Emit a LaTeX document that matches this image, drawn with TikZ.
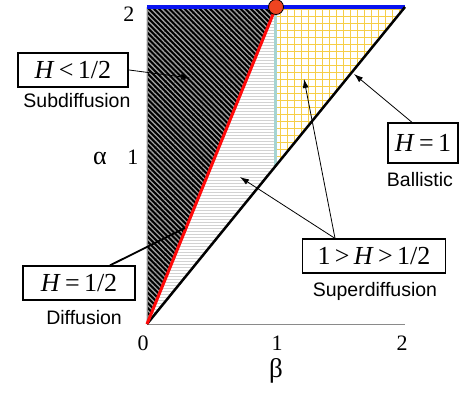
\documentclass[tikz,border=0pt]{standalone}
\usepackage{fontspec}
\setmainfont{Liberation Serif}
\newfontfamily\labelsans{Liberation Sans}
\usetikzlibrary{arrows.meta, patterns, patterns.meta}
\definecolor{lineRed}{HTML}{FF0A0A}
\definecolor{lineBlue}{HTML}{0A14F0}
\definecolor{lineCyan}{HTML}{A6D4D2}
\definecolor{gridYellow}{HTML}{F6CE46}
\definecolor{dotOrange}{HTML}{EE4420}
\definecolor{axisGray}{HTML}{8A8A8A}

\begin{document}
\begin{tikzpicture}[x=129pt, y=158.5pt, >=Latex,
        box/.style={draw, line width=1.2pt, inner sep=2pt, minimum height=34pt,
            font=\fontsize{26}{26}\selectfont},
        tag/.style={font=\labelsans\fontsize{19.5}{20}\selectfont},
        tick/.style={font=\fontsize{22}{22}\selectfont},
        ptr/.style={-{Latex[length=9pt,width=6pt]}, line width=0.8pt}]
    \useasboundingbox (-1.1395,-0.4606) rectangle (2.4729,2.0442);
    % regions
    \fill[black] (0,0) -- (0,2) -- (1,2) -- cycle;
    \fill[pattern={Lines[angle=135, distance=3.6pt, line width=1.3pt]}, pattern color=gray!75]
        (0,0) -- (0,2) -- (1,2) -- cycle;
    \fill[pattern=horizontal lines, pattern color=gray!35] (0,0) -- (1,2) -- (1,1) -- cycle;
    \begin{scope}
        \clip (1,1) -- (1,2) -- (2,2) -- cycle;
        \draw[gridYellow, line width=0.8pt, step=7pt] (1,1) grid (2,2);
    \end{scope}
    % axes
    \draw[axisGray, line width=1pt] (0,0) -- (2,0);
    \draw[axisGray, line width=0.6pt] (0,0) -- (0,2);
    % boundary lines
    \draw[lineCyan, line width=3pt] (1,1) -- (1,2);
    \draw[lineBlue, line width=3.5pt] (0,2) -- (2,2);
    \draw[black, line width=2.5pt] (0,0) -- (2,2);
    \draw[lineRed, line width=3pt] (0,0) -- (1,2);
    \node[circle, draw, fill=dotOrange, line width=0.8pt, minimum size=15pt, inner sep=0pt] (crit) at (1,2) {};
    % ticks
    \node[tick] (y2) at (-0.14,1.956) {2};
    \node[tick] (y1) at (-0.109,1.054) {1};
    \node[tick, font=\fontsize{26}{26}\selectfont] (alab) at (-0.364,1.047) {α};
    \node[tick] (x0) at (-0.03,-0.12) {0};
    \node[tick] (x1) at (1.008,-0.12) {1};
    \node[tick] (x2) at (1.977,-0.12) {2};
    \node[tick, font=\fontsize{27}{27}\selectfont] (blab) at (1,-0.297) {β};
    % labels
    \node[box, minimum width=110pt] (bSub) at (-0.574,1.603) {\textit{H}\,<\,1/2};
    \node[tag] (tSub) at (-0.543,1.407) {Subdiffusion};
    \node[box, minimum width=70pt, minimum height=40pt] (bBal) at (2.140,1.142) {\textit{H}\,=\,1};
    \node[tag] (tBal) at (2.116,0.909) {Ballistic};
    \node[box, minimum width=143pt] (bSup) at (1.760,0.429) {1\,>\,\textit{H}\,>\,1/2};
    \node[tag] (tSup) at (1.767,0.208) {Superdiffusion};
    \node[box, minimum width=112pt] (bDif) at (-0.527,0.259) {\textit{H}\,=\,1/2};
    \node[tag] (tDif) at (-0.488,0.038) {Diffusion};
    % pointers
    \coordinate (pSub) at (0.333,1.552);
    \coordinate (pBal) at (1.605,1.577);
    \coordinate (pSupA) at (1.217,1.546);
    \coordinate (pSupB) at (0.721,0.927);
    \coordinate (pDif) at (0.295,0.606);
    \draw[ptr] (bSub.east) -- (pSub);
    \draw[ptr] ([xshift=-11pt]bBal.north) -- (pBal);
    \draw[ptr] ([xshift=-39pt]bSup.north) -- (pSupA);
    \draw[ptr] ([xshift=-39pt]bSup.north) -- (pSupB);
    \draw[line width=1.8pt] ([xshift=31pt]bDif.north) -- (pDif);
\end{tikzpicture}
\end{document}
